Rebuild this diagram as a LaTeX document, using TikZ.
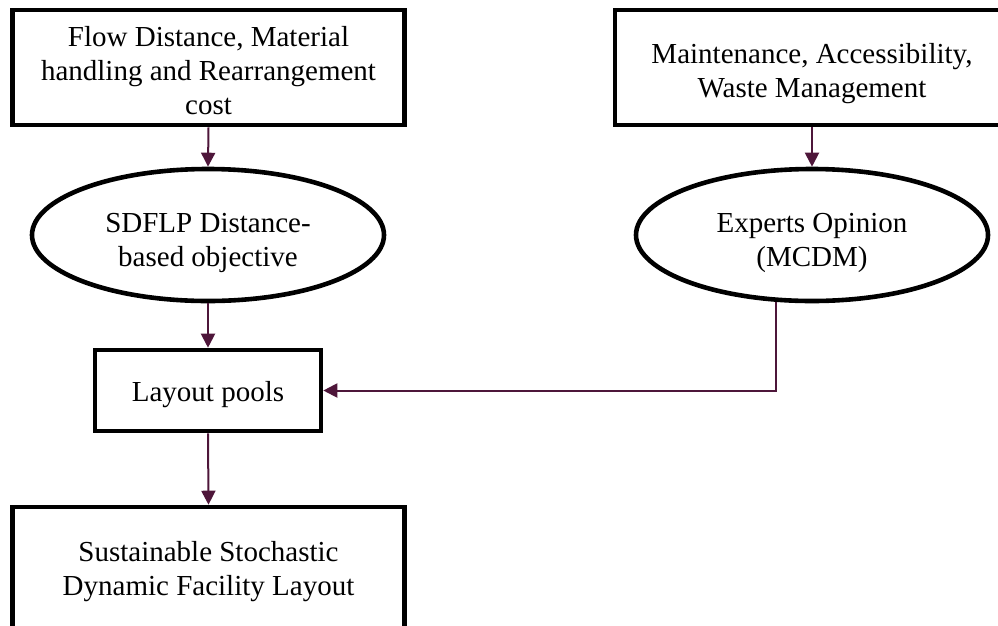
\documentclass[tikz,border=0pt]{standalone}
\usepackage{fontspec}
\setmainfont{Liberation Serif}
\usetikzlibrary{shapes.geometric,arrows.meta}
\definecolor{conn}{RGB}{78,22,58}
\begin{document}
\begin{tikzpicture}[x=1pt,y=-1pt,
  box/.style={draw=black,line width=4.6pt,rectangle,inner sep=0pt},
  oval/.style={draw=black,line width=4.6pt,ellipse,inner sep=0pt,minimum width=352pt,minimum height=132pt},
  txt/.style={align=center,inner sep=0pt,font=\fontsize{29}{34}\selectfont},
  link/.style={draw=conn,line width=2pt,-{Triangle[length=14pt,width=14pt]}}]
\useasboundingbox (0,0) rectangle (998,625);
\clip (0,0) rectangle (998,625);
\node[box,minimum width=392pt,minimum height=115pt] (flow) at (208.5,67.5) {};
\node[txt] (flowt) at (208.5,70.5) {Flow Distance, Material\\handling and Rearrangement\\cost};
\node[box,minimum width=394pt,minimum height=115pt] (maint) at (812,67.5) {};
\node[txt] (maintt) at (812,74) {Maintenance, Accessibility,\\Waste Management};
\node[oval] (sdflp) at (208,235) {};
\node[txt] (sdflpt) at (208,243) {SDFLP Distance-\\based objective};
\node[oval] (expert) at (812,235) {};
\node[txt] (expertt) at (812,243) {Experts Opinion\\(MCDM)};
\node[box,minimum width=226pt,minimum height=81pt] (pool) at (208,390.5) {};
\node[txt] (poolt) at (208,395) {Layout pools};
\node[box,minimum width=392pt,minimum height=122pt] (final) at (208.5,568) {};
\node[txt] (finalt) at (208.5,572) {Sustainable Stochastic\\Dynamic Facility Layout};
\draw[link] (flow.south) -- (sdflp.north);
\draw[link] (maint.south) -- (expert.north);
\draw[link] (sdflp.south) -- (pool.north);
\draw[link] (pool.south) -- (final.north);
\draw[link] (expert.-118) |- (pool.east);
\end{tikzpicture}
\end{document}
